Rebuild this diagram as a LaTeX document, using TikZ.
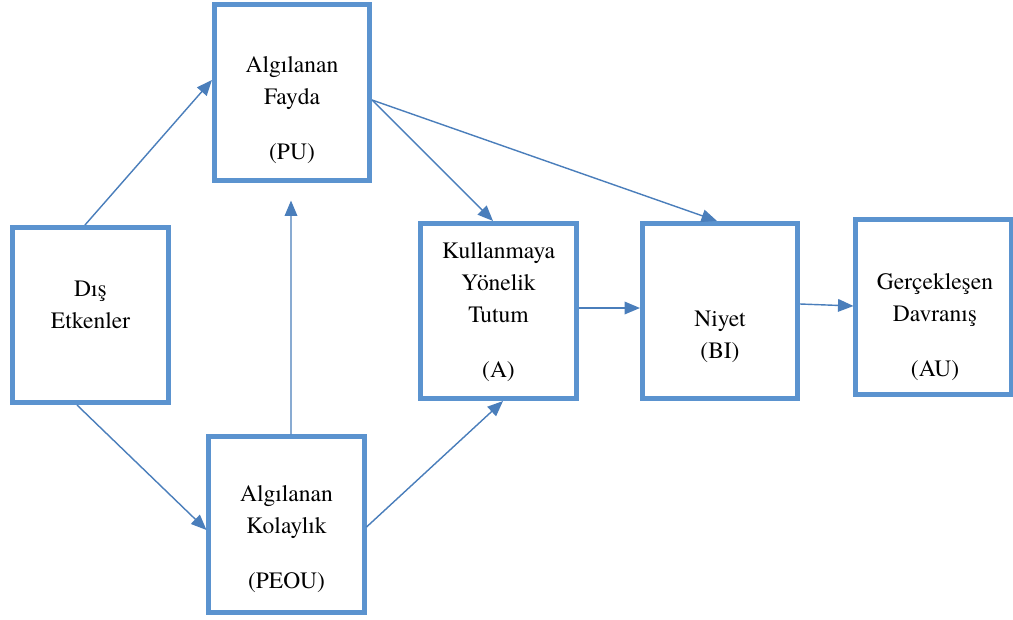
\documentclass[tikz,border=0pt]{standalone}
\usepackage{fontspec}
\setmainfont{texgyretermes}[Extension=.otf, UprightFont=*-regular,
  BoldFont=*-bold, ItalicFont=*-italic, BoldItalicFont=*-bolditalic]
\usepackage{xcolor}
\definecolor{tamblue}{HTML}{5B93CF}
\definecolor{tamarrow}{HTML}{4A7EBB}
\usepackage{tikz}
\usetikzlibrary{arrows.meta,positioning,calc}

\begin{document}
\begin{tikzpicture}[x=0.025cm, y=-0.025cm,
  box/.style={draw=tamblue, line width=0.125cm,
              minimum width=3.875cm, minimum height=4.375cm, inner sep=0pt},
  txt/.style={align=center, inner sep=0pt, text=black,
              font=\fontsize{16.7}{23}\selectfont},
  arr/.style={draw=tamarrow, line width=1pt,
              -{Triangle[length=11pt,width=9pt]}}
]
  \useasboundingbox (0,0) rectangle (1013,619);
  \fill[white] (0,0) rectangle (1013,619);

  % boxes
  \node[box] (dis)  at (90.5,315)  {};
  \node[box] (pu)   at (292,92.5)  {};
  \node[box] (peou) at (286.5,524.5) {};
  \node[box] (a)    at (498.5,311) {};
  \node[box] (bi)   at (720,311)   {};
  \node[box] (au)   at (933.5,307) {};

  % texts
  \node[txt] (distxt)  at (90.5,305) {Dış\\Etkenler};
  \node[txt] (putxt)   at (292,110)  {Algılanan\\Fayda\\[16pt](PU)};
  \node[txt] (peoutxt) at (286.5,539) {Algılanan\\Kolaylık\\[16pt](PEOU)};
  \node[txt] (atxt)    at (498.5,312) {Kullanmaya\\Yönelik\\Tutum\\[16pt](A)};
  \node[txt] (bitxt)   at (720,337)  {Niyet\\(BI)};
  \node[txt] (autxt)   at (935,327)  {Gerçekleşen\\Davranış\\[16pt](AU)};

  % connectors
  \draw[arr] ($(dis.north)+(-5.5,0)$)  -- ($(pu.west)+(0,-12.5)$);
  \draw[arr] ($(dis.south)+(-13.5,0)$) -- ($(peou.west)+(0,5.5)$);
  \draw[arr] ($(peou.north)+(4.5,0)$)  -- ($(pu.south)+(-1,18)$);
  \draw[arr] ($(pu.east)+(0,7.5)$)     -- ($(a.north)+(-5.5,0)$);
  \draw[arr] ($(pu.east)+(0,7.5)$)     -- ($(bi.north)+(-3,0)$);
  \draw[arr] ($(peou.east)+(0,2.5)$)   -- ($(a.south)+(4.5,0)$);
  \draw[arr] ($(a.east)+(0,-3)$)       -- ($(bi.west)+(0,-3)$);
  \draw[arr] ($(bi.east)+(0,-7)$)      -- ($(au.west)+(0,-1)$);

\end{tikzpicture}
\end{document}
